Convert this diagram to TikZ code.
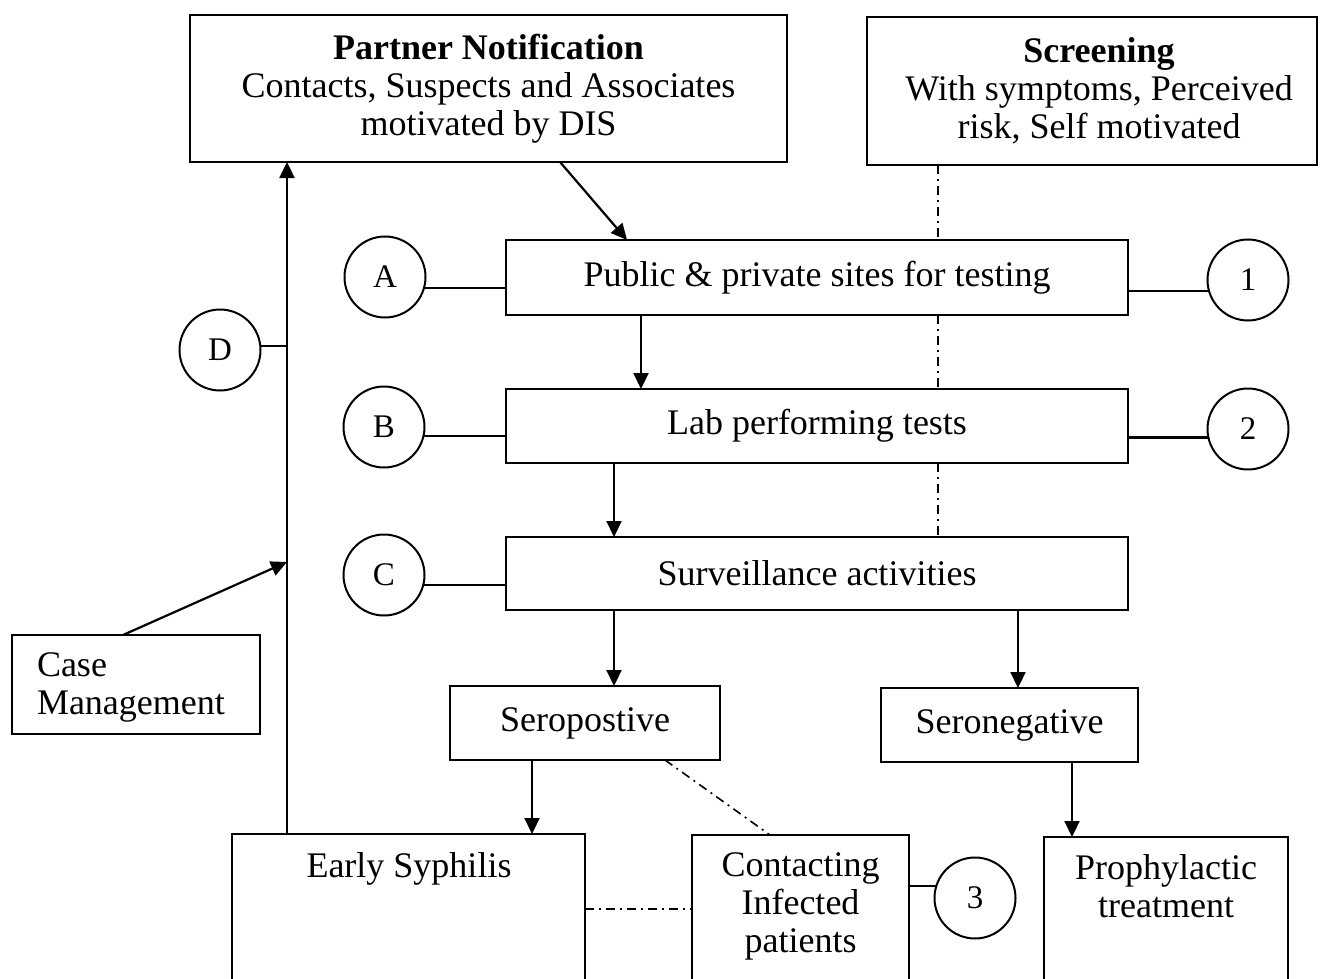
\documentclass[tikz,border=0pt]{standalone}
\usepackage{fontspec}
\setmainfont{Liberation Serif}
\usetikzlibrary{arrows.meta}
\begin{document}
\begin{tikzpicture}[x=1pt,y=-1pt,
  every node/.style={inner sep=0pt,outer sep=0pt},
  box/.style={draw,line width=2.2pt,rectangle},
  txt/.style={font=\fontsize{36}{38}\selectfont,align=center},
  circ/.style={draw,line width=2pt,circle,minimum size=81pt,font=\fontsize{33}{36}\selectfont},
  link/.style={line width=2.2pt},
  arr/.style={line width=2.2pt,-{Triangle[length=16pt,width=15pt]}},
  dashdot/.style={line width=1.6pt,dash pattern=on 9pt off 5pt on 2pt off 5pt}]
\useasboundingbox (0,0) rectangle (1320,979);
\clip (0,0) rectangle (1320,979);

% top boxes
\node[box,minimum width=597pt,minimum height=147pt] (pn) at (488.5,88.5) {};
\node[txt] (pnt) at (488.5,89) {\textbf{Partner Notification}\\Contacts, Suspects and Associates\\motivated by DIS};
\node[box,minimum width=450pt,minimum height=148pt] (scr) at (1092,91) {};
\node[txt] (scrt) at (1099,91) {\textbf{Screening}\\With symptoms, Perceived\\risk, Self motivated};

% main column
\node[box,txt,minimum width=622pt,minimum height=75pt] (pub) at (817,277.5) {Public \& private sites for testing};
\node[box,txt,minimum width=622pt,minimum height=74pt] (lab) at (817,426) {Lab performing tests};
\node[box,txt,minimum width=622pt,minimum height=73pt] (sur) at (817,573.5) {Surveillance activities};
\node[box,txt,minimum width=270pt,minimum height=74pt] (pos) at (585,723) {Seropostive};
\node[box,txt,minimum width=257pt,minimum height=74pt] (neg) at (1009.5,725) {Seronegative};

% bottom boxes (running past the lower edge)
\node[box,minimum width=353pt,minimum height=176pt] (es) at (408.5,922) {};
\node[txt,anchor=north] (est) at (409,853) {Early Syphilis};
\node[box,minimum width=217pt,minimum height=175pt] (ci) at (800.5,922.5) {};
\node[txt,anchor=north] (cit) at (800.5,853) {Contacting\\Infected\\patients};
\node[box,minimum width=244pt,minimum height=173pt] (pt) at (1166,923.5) {};
\node[txt,anchor=north] (ptt) at (1166,855) {Prophylactic\\treatment};

% case management
\node[box,minimum width=248pt,minimum height=99pt] (cm) at (136,684.5) {};
\node[txt,align=left,anchor=north west] (cmt) at (37,653) {Case\\Management};

% circles
\node[circ] (A) at (385,277) {A};
\node[circ] (B) at (384,427) {B};
\node[circ] (C) at (384,575) {C};
\node[circ] (D) at (220,350) {D};
\node[circ] (n1) at (1248,280) {1};
\node[circ] (n2) at (1248,429) {2};
\node[circ] (n3) at (975,898) {3};

\coordinate (dj) at (287,346);
\coordinate (cmj) at (287,562);

% circle links (horizontal)
\draw[link] (A.-16) -- (A.-16 -| pub.west);
\draw[link] (B.-13) -- (B.-13 -| lab.west);
\draw[link] (C.-14) -- (C.-14 -| sur.west);
\draw[link] (n1.196) -- (n1.196 -| pub.east);
\draw[link] (n2.192) -- (n2.192 -| lab.east);
\draw[link] (n3.163) -- (n3.163 -| ci.east);
\draw[link] (D.6) -- (D.6 -| dj);

% flow arrows
\draw[arr] ([xshift=370pt]pn.south west) -- ([xshift=121pt]pub.north west);
\draw[arr] ([xshift=135pt]pub.south west) -- ([xshift=135pt]lab.north west);
\draw[arr] ([xshift=108pt]lab.south west) -- ([xshift=108pt]sur.north west);
\draw[arr] ([xshift=108pt]sur.south west) -- ([xshift=164pt]pos.north west);
\draw[arr] ([xshift=512pt]sur.south west) -- ([xshift=137pt]neg.north west);
\draw[arr] ([xshift=82pt]pos.south west) -- ([xshift=300pt]es.north west);
\draw[arr] ([xshift=191pt]neg.south west) -- ([xshift=28pt]pt.north west);
\draw[arr] ([xshift=55pt]es.north west) -- ([xshift=97pt]pn.south west);
\draw[arr] ([xshift=111pt]cm.north west) -- (cmj);

% dash-dot links
\draw[dashdot] ([xshift=71pt]scr.south west) -- ([xshift=432pt]pub.north west);
\draw[dashdot] ([xshift=432pt]pub.south west) -- ([xshift=432pt]lab.north west);
\draw[dashdot] ([xshift=432pt]lab.south west) -- ([xshift=432pt]sur.north west);
\draw[dashdot] ([xshift=215pt]pos.south west) -- ([xshift=78pt]ci.north west);
\draw[dashdot] ([yshift=13pt]es.east) -- ([yshift=13.5pt]ci.west);
\end{tikzpicture}
\end{document}
